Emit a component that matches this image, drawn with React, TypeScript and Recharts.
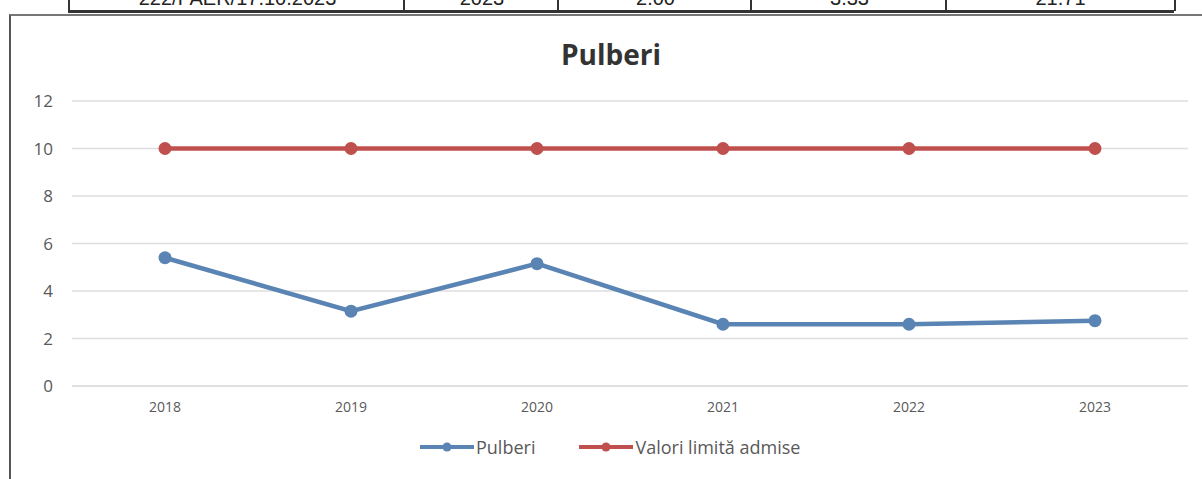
import React from 'react';
import { LineChart, Line, XAxis, YAxis, CartesianGrid } from 'recharts';

const years = ['2018', '2019', '2020', '2021', '2022', '2023'];
const pulberi = [5.4, 3.15, 5.15, 2.6, 2.6, 2.75];
const valoriLimita = [10, 10, 10, 10, 10, 10];
const yTicks = [0, 2, 4, 6, 8, 10, 12];

// the strip of the table that sits above the chart in the scanned page
const tableCells = [
  { text: '222/PAER/17.10.2023', from: 68, to: 403 },
  { text: '2023', from: 403, to: 557 },
  { text: '2.00', from: 557, to: 750 },
  { text: '3.33', from: 750, to: 945 },
  { text: '21.71', from: 945, to: 1172 },
];

const data = years.map((year, i) => ({
  year,
  pulberi: pulberi[i],
  limita: valoriLimita[i],
}));

const BLUE = '#5a84b3';
const RED = '#c0504d';
const FONT = '"Open Sans", Calibri, sans-serif';

const legendItems = [
  { label: 'Pulberi', color: BLUE },
  { label: 'Valori limită admise', color: RED },
];

export default function App() {
  return (
    <div style={{ position: 'absolute', left: 0, top: 0, width: 1202, height: 479, background: '#fff', overflow: 'hidden' }}>
      {/* clipped table row */}
      {tableCells.map((c) => (
        <div
          key={c.text}
          style={{
            position: 'absolute',
            left: c.from,
            top: 0,
            width: c.to - c.from,
            height: 11,
            borderLeft: '2px solid #333',
            borderRight: c.to === 1172 ? '2px solid #333' : undefined,
            overflow: 'hidden',
          }}
        >
          <div
            style={{
              position: 'absolute',
              left: 0,
              right: 0,
              top: -13,
              textAlign: 'center',
              fontFamily: 'Liberation Sans, Arial, sans-serif',
              fontSize: 20,
              color: '#222',
            }}
          >
            {c.text}
          </div>
        </div>
      ))}
      <div style={{ position: 'absolute', left: 68, top: 10, width: 1106, height: 3, background: '#333' }} />
      {/* chart frame */}
      <div style={{ position: 'absolute', left: 9, top: 14, width: 1200, height: 470, borderLeft: '2px solid #555', borderTop: '2px solid #777' }} />

      <div
        style={{
          position: 'absolute',
          left: 0,
          top: 35,
          width: 1222,
          textAlign: 'center',
          fontFamily: FONT,
          fontWeight: 700,
          fontSize: 28,
          color: '#333',
        }}
      >
        Pulberi
      </div>

      <div style={{ position: 'absolute', left: 0, top: 0 }}>
        <LineChart width={1202} height={479} data={data} margin={{ top: 101, right: 14, left: 0, bottom: 0 }}>
          <CartesianGrid vertical={false} stroke="#dedede" strokeWidth={1.5} />
          <XAxis
            dataKey="year"
            padding={{ left: 93, right: 93 }}
            axisLine={{ stroke: '#dedede', strokeWidth: 1.5 }}
            tickLine={false}
            tickMargin={10}
            height={93}
            tick={{ fill: '#595959', fontSize: 14, fontFamily: FONT }}
          />
          <YAxis
            domain={[0, 12]}
            ticks={yTicks}
            width={72}
            axisLine={false}
            tickLine={false}
            tickMargin={13}
            tick={{ fill: '#595959', fontSize: 17, fontFamily: FONT }}
          />
          <Line
            dataKey="pulberi"
            name="Pulberi"
            stroke={BLUE}
            strokeWidth={4.5}
            dot={{ r: 6.5, fill: BLUE, stroke: BLUE, strokeWidth: 0 }}
            isAnimationActive={false}
          />
          <Line
            dataKey="limita"
            name="Valori limită admise"
            stroke={RED}
            strokeWidth={4.5}
            dot={{ r: 6.5, fill: RED, stroke: RED, strokeWidth: 0 }}
            isAnimationActive={false}
          />
        </LineChart>
      </div>

      <div style={{ position: 'absolute', left: 420, top: 435, display: 'flex', gap: 44 }}>
        {legendItems.map((it) => (
          <div key={it.label} style={{ display: 'flex', alignItems: 'center' }}>
            <svg width={54} height={12} style={{ marginRight: 2 }}>
              <line x1={0} y1={6} x2={54} y2={6} stroke={it.color} strokeWidth={4} />
              <circle cx={27} cy={6} r={4.5} fill={it.color} />
            </svg>
            <span style={{ fontSize: 18, color: '#595959', fontFamily: FONT }}>{it.label}</span>
          </div>
        ))}
      </div>
    </div>
  );
}
